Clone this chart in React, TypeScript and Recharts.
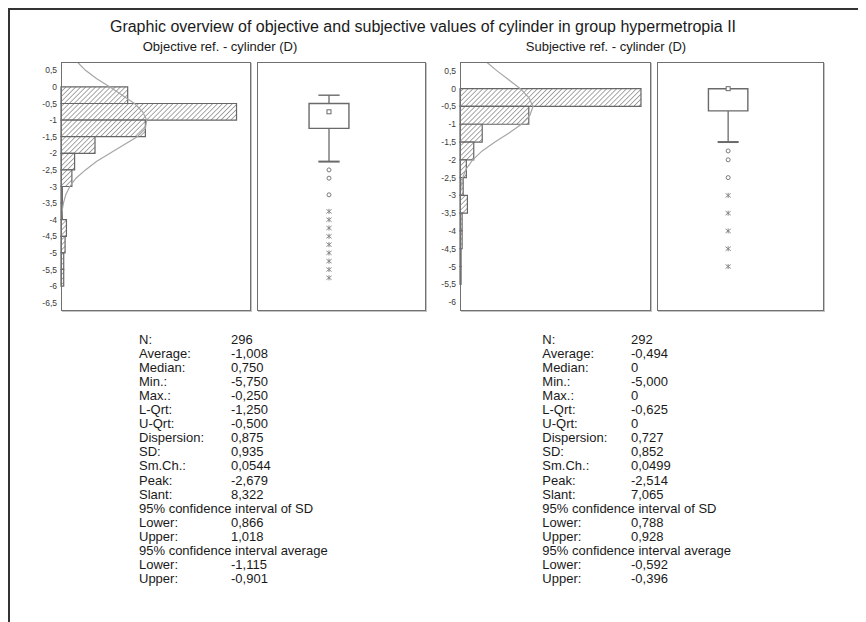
import React from 'react';
import { ComposedChart, XAxis, YAxis, ReferenceArea, ReferenceLine, Scatter } from 'recharts';

// ---------- text ----------
const TITLE = 'Graphic overview of objective and subjective values of cylinder in group hypermetropia II';
const SUB_L = 'Objective ref. - cylinder (D)';
const SUB_R = 'Subjective ref. - cylinder (D)';

// ---------- histogram data (bins of 0.5 D, top edge of each bin) ----------
const BIN = 0.5;
const binTopsL = [0, -0.5, -1, -1.5, -2, -2.5, -3, -3.5, -4, -4.5, -5, -5.5];
const countsL = [49, 129, 62, 25, 10, 8, 1, 1, 4, 3, 2, 2];
const binTopsR = [0, -0.5, -1, -1.5, -2, -2.5, -3, -3.5, -4, -4.5, -5];
const countsR = [171, 65, 21, 13, 6, 3, 7, 2, 2, 1, 1];

// fitted curve (value in D, height in counts)
const curveValsL = [0.75, 0.5, 0.25, 0, -0.25, -0.5, -0.75, -1, -1.25, -1.5, -1.75, -2, -2.25, -2.5, -2.75, -3, -3.25, -3.5, -3.75, -4];
const curveCountsL = [12, 18, 26, 36, 45, 54, 60, 63, 62, 56, 46, 36, 26, 18, 11, 6.5, 3.5, 1.8, 0.8, 0.3];
const curveValsR = [0.75, 0.5, 0.25, 0, -0.25, -0.5, -0.75, -1, -1.25, -1.5, -1.75, -2, -2.25, -2.5, -2.75, -3];
const curveCountsR = [25, 35, 46, 57, 65, 69, 66, 58, 46, 33, 21, 12, 6, 2.5, 1, 0.3];

// axis ticks / domains
const ticksL = [0.5, 0, -0.5, -1, -1.5, -2, -2.5, -3, -3.5, -4, -4.5, -5, -5.5, -6, -6.5];
const ticksR = [0.5, 0, -0.5, -1, -1.5, -2, -2.5, -3, -3.5, -4, -4.5, -5, -5.5, -6];
const domainL: [number, number] = [-6.75, 0.75];
const domainR: [number, number] = [-6.25, 0.75];
const maxCountL = 140;
const maxCountR = 180;

// ---------- box plot data ----------
const boxL = [-0.25, -0.5, -0.75, -1.25, -2.25]; // max, upper quartile, median, lower quartile, lower whisker
const circlesL = [-2.5, -2.75, -3.25];
const extremesL = [-3.75, -4, -4.25, -4.5, -4.75, -5, -5.25, -5.5, -5.75];
const boxR = [0, 0, 0, -0.625, -1.5];
const circlesR = [-1.75, -2, -2.5];
const extremesR = [-3, -3.5, -4, -4.5, -5];

// ---------- statistics ----------
const statLabels = ['N:', 'Average:', 'Median:', 'Min.:', 'Max.:', 'L-Qrt:', 'U-Qrt:', 'Dispersion:', 'SD:', 'Sm.Ch.:', 'Peak:', 'Slant:', '95% confidence interval of SD', 'Lower:', 'Upper:', '95% confidence interval average', 'Lower:', 'Upper:'];
const statsL = ['296', '-1,008', '0,750', '-5,750', '-0,250', '-1,250', '-0,500', '0,875', '0,935', '0,0544', '-2,679', '8,322', '', '0,866', '1,018', '', '-1,115', '-0,901'];
const statsR = ['292', '-0,494', '0', '-5,000', '0', '-0,625', '0', '0,727', '0,852', '0,0499', '-2,514', '7,065', '', '0,788', '0,928', '', '-0,592', '-0,396'];

// ---------- layout (container coordinates) ----------
const FONT = '"Liberation Sans", Arial, sans-serif';
const PLOT_TOP = 52.5;
const PLOT_H = 249;
const AXW = 40;
const HIST_W = 190.5;
const FRAME = '#707070';
const fmt = (v: number) => String(v).replace('.', ',');

function Frame({ left, width }: { left: number; width: number }) {
  return (
    <div
      style={{
        position: 'absolute', left, top: PLOT_TOP, width, height: PLOT_H, boxSizing: 'border-box',
        border: `1.5px solid ${FRAME}`, boxShadow: '1px 1px 0 #c4c4c4', pointerEvents: 'none',
      }}
    />
  );
}

const NoDot = () => <g />;

function Hist({ id, left, tops, counts, cv, cc, ticks, domain, maxX }: any) {
  const curve = cv.map((v: number, i: number) => ({ c: cc[i], v }));
  return (
    <>
      <div style={{ position: 'absolute', left: left - AXW, top: PLOT_TOP }}>
        <ComposedChart width={HIST_W + AXW} height={PLOT_H} margin={{ top: 0, right: 0, bottom: 0, left: 0 }}>
          <defs>
            <pattern id={id} width="3.5" height="3.5" patternUnits="userSpaceOnUse" patternTransform="rotate(45)">
              <rect width="3.5" height="3.5" fill="#ffffff" />
              <line x1="0" y1="0" x2="0" y2="3.5" stroke="#787878" strokeWidth="1.3" />
            </pattern>
          </defs>
          <XAxis type="number" dataKey="c" domain={[0, maxX]} hide allowDataOverflow />
          <YAxis
            type="number" dataKey="v" domain={domain} ticks={ticks} interval={0} width={AXW}
            axisLine={false} tickLine={false} tickSize={4} tickMargin={0} allowDataOverflow
            tickFormatter={fmt} tick={{ fontSize: 8.5, fill: '#3a3a3a', fontFamily: FONT }}
          />
          {counts.map((c: number, i: number) =>
            c > 0 ? (
              <ReferenceArea
                key={i} x1={0} x2={c} y1={tops[i] - BIN} y2={tops[i]}
                fill={`url(#${id})`} fillOpacity={1} stroke="#666666" strokeWidth={1.2} ifOverflow="visible"
              />
            ) : null
          )}
          <Scatter
            data={curve} line={{ stroke: '#a6a6a6', strokeWidth: 1.2 }} lineType="joint"
            shape={NoDot} isAnimationActive={false}
          />
        </ComposedChart>
      </div>
      <Frame left={left} width={HIST_W} />
    </>
  );
}

const BC = 42.6; // box centre on a 0..100 horizontal scale
const BHW = 11.8;
const CHW = 6.3;

const Square = (p: any) => <rect x={p.cx - 2} y={p.cy - 2} width={4} height={4} fill="#fff" stroke="#6a6a6a" strokeWidth={1} />;
const Ring = (p: any) => <circle cx={p.cx} cy={p.cy} r={2} fill="#fff" stroke="#7a7a7a" strokeWidth={1} />;
const Star = (p: any) => (
  <g stroke="#808080" strokeWidth={0.9}>
    <line x1={p.cx} y1={p.cy - 2.6} x2={p.cx} y2={p.cy + 2.6} />
    <line x1={p.cx - 2.6} y1={p.cy - 2} x2={p.cx + 2.6} y2={p.cy + 2} />
    <line x1={p.cx - 2.6} y1={p.cy + 2} x2={p.cx + 2.6} y2={p.cy - 2} />
  </g>
);

function BoxPanel({ left, width, domain, box, circles, extremes }: any) {
  const [mx, q3, med, q1, lw] = box;
  const medData = [{ x: BC, v: med }];
  const circData = circles.map((v: number) => ({ x: BC, v }));
  const extData = extremes.map((v: number) => ({ x: BC, v }));
  return (
    <>
      <div style={{ position: 'absolute', left, top: PLOT_TOP }}>
        <ComposedChart width={width} height={PLOT_H} margin={{ top: 0, right: 0, bottom: 0, left: 0 }}>
          <XAxis type="number" dataKey="x" domain={[0, 100]} hide allowDataOverflow />
          <YAxis type="number" dataKey="v" domain={domain} hide allowDataOverflow />
          {mx > q3 ? (
            <ReferenceLine segment={[{ x: BC, y: q3 }, { x: BC, y: mx }]} stroke="#6a6a6a" strokeWidth={1.3} />
          ) : null}
          {mx > q3 ? (
            <ReferenceLine segment={[{ x: BC - CHW, y: mx }, { x: BC + CHW, y: mx }]} stroke="#6a6a6a" strokeWidth={1.4} />
          ) : null}
          <ReferenceLine segment={[{ x: BC, y: q1 }, { x: BC, y: lw }]} stroke="#6a6a6a" strokeWidth={1.3} />
          <ReferenceLine segment={[{ x: BC - CHW, y: lw }, { x: BC + CHW, y: lw }]} stroke="#6a6a6a" strokeWidth={2} />
          <ReferenceArea x1={BC - BHW} x2={BC + BHW} y1={q1} y2={q3} fill="#fff" fillOpacity={1} stroke="#6a6a6a" strokeWidth={1.4} />
          <Scatter data={circData} shape={Ring} isAnimationActive={false} />
          <Scatter data={extData} shape={Star} isAnimationActive={false} />
          <Scatter data={medData} shape={Square} isAnimationActive={false} />
        </ComposedChart>
      </div>
      <Frame left={left} width={width} />
    </>
  );
}

function Stats({ x1, x2, values }: { x1: number; x2: number; values: string[] }) {
  return (
    <g fontFamily={FONT} fontSize={13} fill="#1a1a1a">
      {statLabels.map((l, i) => (
        <g key={i}>
          <text x={x1} y={334.7 + i * 14.08}>{l}</text>
          {values[i] ? <text x={x2} y={334.7 + i * 14.08}>{values[i]}</text> : null}
        </g>
      ))}
    </g>
  );
}

export default function App() {
  return (
    <div style={{ position: 'relative', width: 858, height: 614, background: '#fff' }}>
      <div style={{ position: 'absolute', left: 1, top: 1, width: 857, height: 613 }}>
        <svg width={857} height={613} style={{ position: 'absolute', left: 0, top: 0 }}>
          <text x={414} y={22.5} textAnchor="middle" fontFamily={FONT} fontSize={16} fill="#1a1a1a">{TITLE}</text>
          <text x={211} y={41.5} textAnchor="middle" fontFamily={FONT} fontSize={13} fill="#1a1a1a">{SUB_L}</text>
          <text x={597} y={41.5} textAnchor="middle" fontFamily={FONT} fontSize={13} fill="#1a1a1a">{SUB_R}</text>
          <Stats x1={130} x2={222} values={statsL} />
          <Stats x1={533.3} x2={622} values={statsR} />
        </svg>
        <Hist id="hatchL" left={51.5} tops={binTopsL} counts={countsL} cv={curveValsL} cc={curveCountsL} ticks={ticksL} domain={domainL} maxX={maxCountL} />
        <BoxPanel left={247.5} width={169} domain={domainL} box={boxL} circles={circlesL} extremes={extremesL} />
        <Hist id="hatchR" left={451} tops={binTopsR} counts={countsR} cv={curveValsR} cc={curveCountsR} ticks={ticksR} domain={domainR} maxX={maxCountR} />
        <BoxPanel left={647.5} width={167} domain={domainR} box={boxR} circles={circlesR} extremes={extremesR} />
      </div>
      <div
        style={{
          position: 'absolute', left: 0, top: 0, width: 858, height: 614, boxSizing: 'border-box',
          borderLeft: '2px solid #333333', borderTop: '2px solid #333333', pointerEvents: 'none', zIndex: 5,
        }}
      />
    </div>
  );
}
